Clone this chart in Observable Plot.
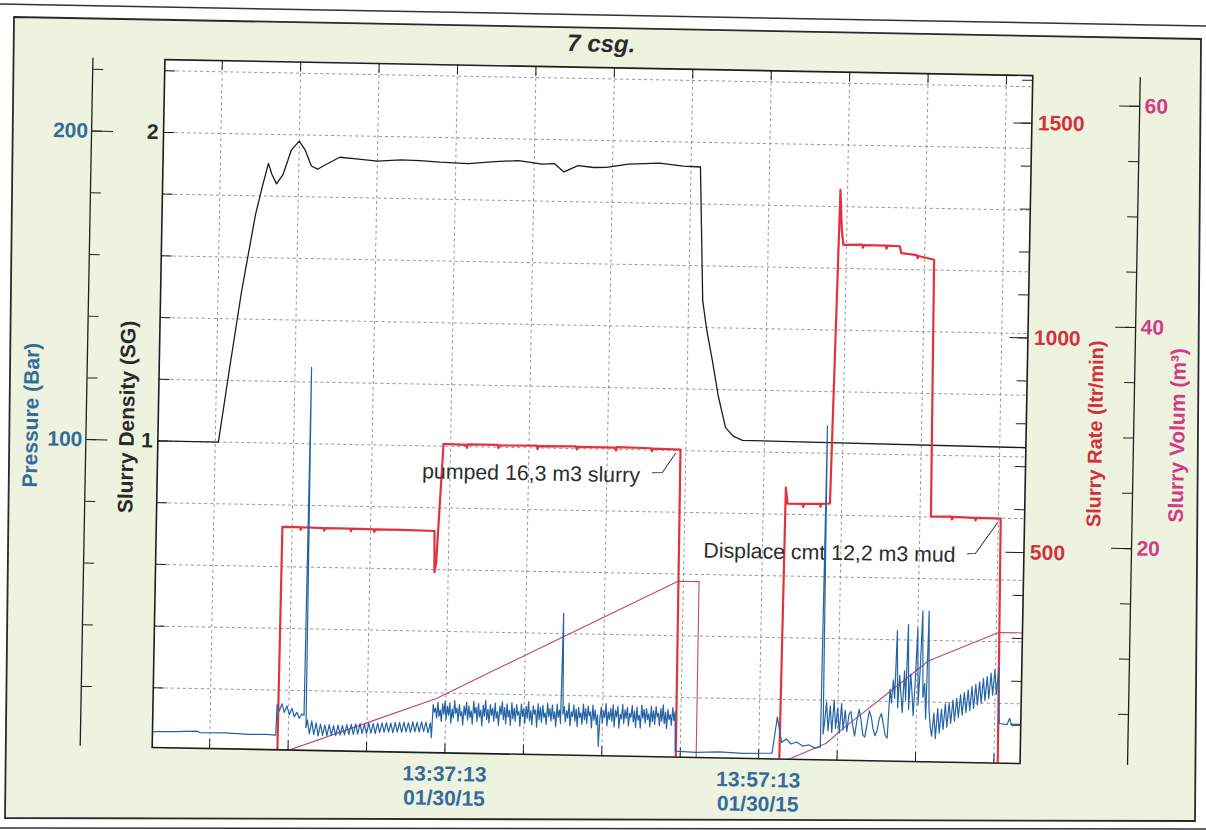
<!DOCTYPE html>
<html>
<head>
<meta charset="utf-8">
<script src="https://cdn.jsdelivr.net/npm/d3@7"></script>
<script src="https://cdn.jsdelivr.net/npm/@observablehq/plot@0.6"></script>
<style>
html, body { margin: 0; padding: 0; background: #fff; width: 1206px; height: 830px; overflow: hidden; }
#paper { position: absolute; left: 0; top: 0; }
#page { position: absolute; left: 0; top: 0; width: 1206px; height: 830px; transform: rotate(1.06deg); transform-origin: 590px 410px; }
.layer { position: absolute; left: 0; top: 0; }
</style>
</head>
<body>
<svg id="paper" width="1206" height="830">
  <line x1="0" y1="4" x2="1206" y2="26" stroke="#333" stroke-width="1.5"/>
  <polygon points="14,17 1201,39 1195,821 5,818" fill="#eef3df" stroke="#2a2a2a" stroke-width="1.8"/>
  <line x1="0" y1="828" x2="1206" y2="829" stroke="#333" stroke-width="1.5"/>
</svg>
<div id="page"><div id="chart"></div></div>
<script>
// ---------- time axis (minutes relative to 13:37:13, 01/30/15) ----------
const xDomainMin = [-18.66, 36.67];
const gridMin = [-15, -10, -5, 0, 5, 10, 15, 20, 25, 30, 35];
const xLabelMin = [0, 20];

// ---------- scales / ticks ----------
const densityDomain = [0.0065, 2.236];
const densityGrid = [0.2, 0.4, 0.6, 0.8, 1.0, 1.2, 1.4, 1.6, 1.8, 2.0, 2.2];
const densityLabels = [1, 2];
const pressureDomain = [0.65, 223.6];
const pressureTicks = [20, 40, 60, 80, 100, 120, 140, 160, 180, 200, 220];
const pressureLabels = [100, 200];
const rateDomain = [8.8, 1611];
const rateTicks = [100, 200, 300, 400, 500, 600, 700, 800, 900, 1000, 1100, 1200, 1300, 1400, 1500, 1600];
const rateLabels = [500, 1000, 1500];
const volumeDomain = [0.39, 62.6];
const volumeTicks = [5, 10, 15, 20, 25, 30, 35, 40, 45, 50, 55, 60];
const volumeLabels = [20, 40, 60];

// ---------- series: [minutes, value] ----------
const densitySG = [[-18.66,1.0],[-14.8,1.0],[-14.2,1.23],[-13.5,1.49],[-12.7,1.74],[-12.3,1.83],[-11.94,1.906],[-11.7,1.87],[-11.4,1.84],[-11.0,1.87],[-10.5,1.95],[-10.0,1.98],[-9.6,1.95],[-9.2,1.90],[-8.8,1.89],[-8.3,1.905],[-7.4,1.93],[-6.2,1.925],[-5.0,1.92],[-3.5,1.925],[-2.3,1.924],[-1.0,1.92],[0.8,1.917],[2.5,1.925],[4.0,1.93],[5.5,1.92],[6.3,1.922],[6.9,1.896],[7.8,1.917],[8.8,1.912],[9.6,1.913],[11.0,1.925],[13.0,1.93],[14.5,1.922],[15.6,1.92],[15.9,1.487],[16.2,1.39],[16.6,1.29],[17.0,1.18],[17.5,1.078],[18.0,1.05],[18.6,1.037],[36.67,1.03]];

const rateLpm = [[-18.66,0],[-10.68,0],[-10.62,528],[-9.5,528],[-9.45,522],[-9.4,528],[-8.0,527],[-7.95,521],[-7.9,527],[-6.3,527],[-6.25,521],[-6.2,527],[-4.8,526],[-4.75,520],[-4.7,526],[-3.0,526],[-0.92,525],[-0.88,429],[-0.78,450],[-0.45,728],
 [1.0,727],[1.05,720],[1.1,728],[3.0,728],[3.05,721],[3.1,727],[5.5,728],[5.55,720],[5.6,727],[8.0,728],[8.05,721],[8.1,727],[10.5,727],[10.55,720],[10.6,728],[12.8,727],[12.85,720],[12.9,726],[14.66,725],[14.72,0],
 [21.32,0],[21.42,641],[21.55,604],[22.5,604],[22.55,597],[22.6,604],[23.6,605],[23.65,598],[23.7,605],[24.25,606],[24.55,1337],[24.68,1245],[24.8,1209],[26.0,1210],[26.05,1203],[26.1,1209],[27.5,1209],[27.55,1202],[27.6,1209],[28.4,1208],[28.5,1192],[29.5,1188],[29.55,1181],[29.6,1186],[30.6,1178],[30.7,580],[32.0,581],[32.05,574],[32.1,580],[33.5,579],[33.55,573],[33.6,579],[35.15,578],[35.25,0],[36.67,0]];

const volumeM3 = [[-18.66,0],[-10.65,0],[-4.2,3.4],[-0.6,5.3],[3.4,8.2],[14.66,16.3],[16.0,16.3],[16.02,0],[21.32,0],[24.3,1.9],[25.3,3.2],[28.4,6.8],[30.7,9.5],[35.15,12.2],[36.67,12.2]];

// pressure (bar): sparse parts and regularly sampled noisy bursts
const pressureStart = [[-18.66,5.8],[-17.2,5.9],[-15.8,6.2],[-15.6,5.7],[-14.0,5.8],[-12.5,5.5],[-11.4,5.6],[-10.8,5.4],[-10.75,15.3]];
const humpStart = -10.6, humpStep = 0.16;
const humpBar = [13.2,15.6,12.8,14.9,12.1,14.2,11.4,12.9,11.0,12.4];
const spikeOne = [[-9.02,12.0],[-8.95,124.8],[-8.88,8.0]];
const rippleStart = -8.8, rippleStep = 0.14;
const rippleBar = [10.5,6.0,10.2,5.8,9.6,5.4,9.2,5.6,9.0,5.5,
 9.1,5.7,8.8,5.6,9.0,5.8,8.9,5.9,9.2,6.0,
 9.3,6.1,9.5,6.2,9.6,6.4,9.5,6.3,9.8,6.6,
 9.7,6.5,9.9,6.8,10.0,6.9,10.1,7.0,10.0,6.8,
 10.2,7.1,10.3,7.0,10.4,7.2,10.2,7.1,10.5,7.3,
 10.4,7.2,10.6,7.4,10.5,7.0,10.3];
const pumpDip = [[-0.88,5.5]];
const pumpStart = -0.8, pumpStep = 0.076;
const pumpBar = [
 16.2,13.8,15.1,11.9,17.0,12.4,14.6,10.8,16.5,13.2,
 17.4,11.6,15.8,12.9,16.9,10.3,14.9,12.0,17.7,13.5,
 15.2,10.9,16.4,12.7,14.1,9.8,15.9,13.0,17.2,11.4,
 16.0,12.3,14.4,10.1,17.5,13.6,15.6,11.0,16.8,12.5,
 14.7,9.6,16.3,12.8,17.9,11.7,15.0,10.6,16.6,13.1,
 15.4,11.2,17.1,12.2,14.3,9.9,16.1,13.4,17.6,11.8,
 15.7,10.4,16.9,12.6,14.8,10.0,17.3,12.1,15.5,11.3,
 16.7,13.3,14.5,9.7,17.0,12.9,15.3,10.7,16.2,12.4,
 17.8,11.5,14.9,10.2,16.4,13.7,15.1,9.5,17.2,12.0,
 15.9,11.1,16.6,12.7,14.2,10.5,17.4,13.0,15.6,11.6,
 16.8,12.3,14.6,9.8,17.1,12.8,15.2,10.9,46.6,13.9,
 16.3,11.4,15.0,12.6,17.5,10.2,14.7,13.2,16.9,11.7,
 15.6,9.9,16.2,12.9,14.4,10.8,17.3,12.2,15.8,11.0,
 16.7,13.5,14.8,9.6,17.0,12.1,15.4,10.6,13.9,3.6,
 12.8,16.4,11.3,15.1,13.0,17.6,10.4,14.9,12.5,16.1,
 11.9,17.2,10.1,15.5,13.4,16.8,9.7,14.2,12.7,17.4,
 11.2,15.7,12.9,16.5,10.5,14.6,13.3,17.1,11.8,15.3,
 10.0,16.6,12.4,14.0,9.8,17.3,13.1,15.9,11.5,16.2,
 12.6,14.5,10.3,17.0,12.0,15.6,11.1,16.9,13.6,14.8,
 10.7,16.3,12.2,17.5,11.4,15.2,9.9,16.0,12.8,14.4,
 11.0,16.7,12.5,15.4];
const idleBar = [[14.68,2.6],[16.0,2.3],[17.5,2.6],[19.0,2.3],[20.85,2.5],[21.15,14.2],[21.45,6.1],[21.75,7.2],[22.05,5.6],[22.4,6.3],[22.8,5.0],[23.2,5.4],[23.6,4.4],[23.92,4.8],[24.0,108.9],[24.08,9.0]];
const burstAStart = 24.15, burstAStep = 0.12;
const burstABar = [12.0,19.5,10.1,18.2,9.6,20.1,11.0,17.5,9.4,19.0,10.5,16.8,9.9,15.5];
const waveBStart = 25.83, waveBStep = 0.13;
const waveBBar = [16.5,12.0,8.5,13.5,17.2,14.0,9.0,8.3,12.5,16.8,15.0,11.0,8.8,10.5,14.5,16.0,12.5,9.0,8.1];
const burstCStart = 28.3, burstCStep = 0.1;
const burstCBar = [24.0,19.5,27.0,21.0,43.0,18.0,28.5,22.0,16.5,30.0,20.5,45.0,17.5,29.0,23.0,15.5,27.5,44.0,19.0,31.0,49.5,21.5,26.0,14.5,49.5,18.0,12.0];
const rampDStart = 31.0, rampDStep = 0.12;
const rampDBar = [9.0,16.5,8.2,18.0,10.0,17.8,11.2,19.5,12.0,20.0,13.2,20.8,14.0,21.5,15.1,22.6,16.0,23.4,16.9,24.2,17.5,25.3,18.2,26.0,19.4,26.9,20.0,28.0,20.8,28.6,21.5,29.8,22.6,30.9,23.0,31.5];
const pressureTail = [[35.3,13.5],[35.8,13.2],[35.95,15.2],[36.1,12.9],[36.67,13.0]];

// annotations (minutes, ltr/min)
const noteText = ["pumped 16,3 m3 slurry", "Displace cmt 12,2 m3 mud"];
const noteMin = [-1.78, 16.24];
const noteRate = [663, 491];
const leaderPumped = [[12.89,670],[13.53,671],[14.34,716]];
const leaderDisplace = [[33.07,495],[33.58,496],[34.96,569]];

// ---------- helpers ----------
const T0 = Date.UTC(2015, 0, 30, 13, 37, 13);
const toTime = m => new Date(T0 + m * 60000);
const sampled = (t0, dt, vals) => vals.map((v, i) => [t0 + i * dt, v]);
const pressureBar = [
  ...pressureStart,
  ...sampled(humpStart, humpStep, humpBar),
  ...spikeOne,
  ...sampled(rippleStart, rippleStep, rippleBar),
  ...pumpDip,
  ...sampled(pumpStart, pumpStep, pumpBar),
  ...idleBar,
  ...sampled(burstAStart, burstAStep, burstABar),
  ...sampled(waveBStart, waveBStep, waveBBar),
  ...sampled(burstCStart, burstCStep, burstCBar),
  ...sampled(rampDStart, rampDStep, rampDBar),
  ...pressureTail
];
const notes = noteText.map((t, i) => ({text: t, t: noteMin[i], r: noteRate[i]}));
const leaders = [
  ...leaderPumped.map(d => ({g: 0, t: d[0], r: d[1]})),
  ...leaderDisplace.map(d => ({g: 1, t: d[0], r: d[1]}))
];

const FONT = '"Liberation Sans", Arial, Helvetica, sans-serif';
const INK = "#1f1f1f";
const GRID = "#7c7c7c";
const BLUE_LINE = "#2463a5", BLUE_TEXT = "#336b9c";
const RED_LINE = "#e2323e", RED_TEXT = "#d3303d";
const PINK_LINE = "#c2457b", PINK_TEXT = "#d23b86";
const W = 1206, H = 830, ML = 158, MR = 180, MT = 67, MB = 75;
const FW = W - ML - MR, FH = H - MT - MB;
const xDomain = xDomainMin.map(toTime);
const X = d => toTime(d[0]), Y = d => d[1];
const plain = d => String(d);

function layer(yDomain, marks) {
  const svg = Plot.plot({
    width: W, height: H,
    marginLeft: ML, marginRight: MR, marginTop: MT, marginBottom: MB,
    x: {type: "utc", domain: xDomain, axis: null},
    y: {domain: yDomain, axis: null},
    style: {background: "transparent", fontFamily: FONT, overflow: "visible"},
    marks
  });
  svg.classList.add("layer");
  document.getElementById("chart").appendChild(svg);
}

// base: density
layer(densityDomain, [
  Plot.frame({fill: "white", stroke: null}),
  Plot.ruleY(densityGrid, {stroke: GRID, strokeWidth: 0.8, strokeDasharray: "3,3"}),
  Plot.ruleX(gridMin.map(toTime), {stroke: GRID, strokeWidth: 0.8, strokeDasharray: "3,3"}),
  Plot.axisX(gridMin.map(toTime), {anchor: "bottom", tickSize: 10, fill: "none", stroke: INK, dy: -FH, label: null}),
  Plot.axisX(gridMin.map(toTime), {anchor: "top", tickSize: 10, fill: "none", stroke: INK, dy: FH, label: null}),
  Plot.axisX(xLabelMin.map(toTime), {anchor: "bottom", tickSize: 0, tickPadding: 11,
    tickFormat: d3.utcFormat("%H:%M:%S\n%m/%d/%y"), fontSize: 21, fontWeight: "bold",
    color: BLUE_TEXT, lineHeight: 1.15, label: null}),
  Plot.axisY(densityGrid, {anchor: "right", tickSize: 10, fill: "none", stroke: INK, dx: -FW, label: null}),
  Plot.axisY(densityLabels, {anchor: "left", tickSize: 0, tickPadding: 5, tickFormat: plain, fontSize: 21, fontWeight: "bold", color: "#2a2a2a", label: null}),
  Plot.text(["Slurry Density (SG)"], {frameAnchor: "left", dx: -31, dy: 14, rotate: -90, textAnchor: "middle", fontSize: 21, fontWeight: "bold", fill: "#2a2a2a"}),
  Plot.text(["7 csg."], {frameAnchor: "top", dx: 2, dy: -33, fontSize: 24, fontWeight: "bold", fontStyle: "italic", fill: "#2b2b2b"}),
  Plot.line(densitySG, {x: X, y: Y, stroke: "#1c1c1c", strokeWidth: 1.3, clip: true})
]);

// volume
layer(volumeDomain, [
  Plot.ruleX([xDomain[1]], {dx: 107.5, stroke: INK, strokeWidth: 1.3}),
  Plot.axisY(volumeTicks, {anchor: "left", tickSize: 10, fill: "none", stroke: INK, dx: FW + 107.5, label: null}),
  Plot.axisY(volumeLabels, {anchor: "left", tickSize: 20, fill: "none", stroke: INK, dx: FW + 107.5, label: null}),
  Plot.axisY(volumeLabels, {anchor: "right", tickSize: 0, tickPadding: 5, dx: 107.5, tickFormat: plain, fontSize: 21, fontWeight: "bold", color: PINK_TEXT, label: null}),
  Plot.text(["Slurry Volum (m³)"], {frameAnchor: "right", dx: 151.5, dy: 13, rotate: -90, textAnchor: "middle", fontSize: 21, fontWeight: "bold", fill: PINK_TEXT}),
  Plot.line(volumeM3, {x: X, y: Y, stroke: PINK_LINE, strokeWidth: 1.1, clip: true})
]);

// rate
layer(rateDomain, [
  Plot.axisY(rateTicks, {anchor: "left", tickSize: 10, fill: "none", stroke: INK, dx: FW, label: null}),
  Plot.axisY(rateLabels, {anchor: "left", tickSize: 18, fill: "none", stroke: INK, dx: FW, label: null}),
  Plot.axisY(rateLabels, {anchor: "right", tickSize: 0, tickPadding: 6, tickFormat: plain, fontSize: 21, fontWeight: "bold", color: RED_TEXT, label: null}),
  Plot.text(["Slurry Rate (ltr/min)"], {frameAnchor: "right", dx: 69.4, dy: 13, rotate: -90, textAnchor: "middle", fontSize: 20, fontWeight: "bold", fill: RED_TEXT}),
  Plot.line(rateLpm, {x: X, y: Y, stroke: RED_LINE, strokeWidth: 2.2, clip: true}),
  Plot.line(leaders, {x: d => toTime(d.t), y: "r", z: "g", stroke: "#3a3a3a", strokeWidth: 1}),
  Plot.text(notes, {x: d => toTime(d.t), y: "r", text: "text", textAnchor: "start", fontSize: 21.3, fill: "#2c2c2c"})
]);

// pressure + frame on top
layer(pressureDomain, [
  Plot.ruleX([xDomain[0]], {dx: -72, stroke: INK, strokeWidth: 1.3}),
  Plot.axisY(pressureTicks, {anchor: "right", tickSize: 10, fill: "none", stroke: INK, dx: -(FW + 72), label: null}),
  Plot.axisY(pressureLabels, {anchor: "right", tickSize: 21, fill: "none", stroke: INK, dx: -(FW + 72), label: null}),
  Plot.axisY(pressureLabels, {anchor: "left", tickSize: 0, tickPadding: 3.5, dx: -72, tickFormat: plain, fontSize: 21, fontWeight: "bold", color: BLUE_TEXT, label: null}),
  Plot.text(["Pressure (Bar)"], {frameAnchor: "left", dx: -127, dy: 14, rotate: -90, textAnchor: "middle", fontSize: 21, fontWeight: "bold", fill: BLUE_TEXT}),
  Plot.line(pressureBar, {x: X, y: Y, stroke: BLUE_LINE, strokeWidth: 1.2, clip: true}),
  Plot.frame({stroke: "#1e1e1e", strokeWidth: 1.6})
]);
</script>
</body>
</html>
